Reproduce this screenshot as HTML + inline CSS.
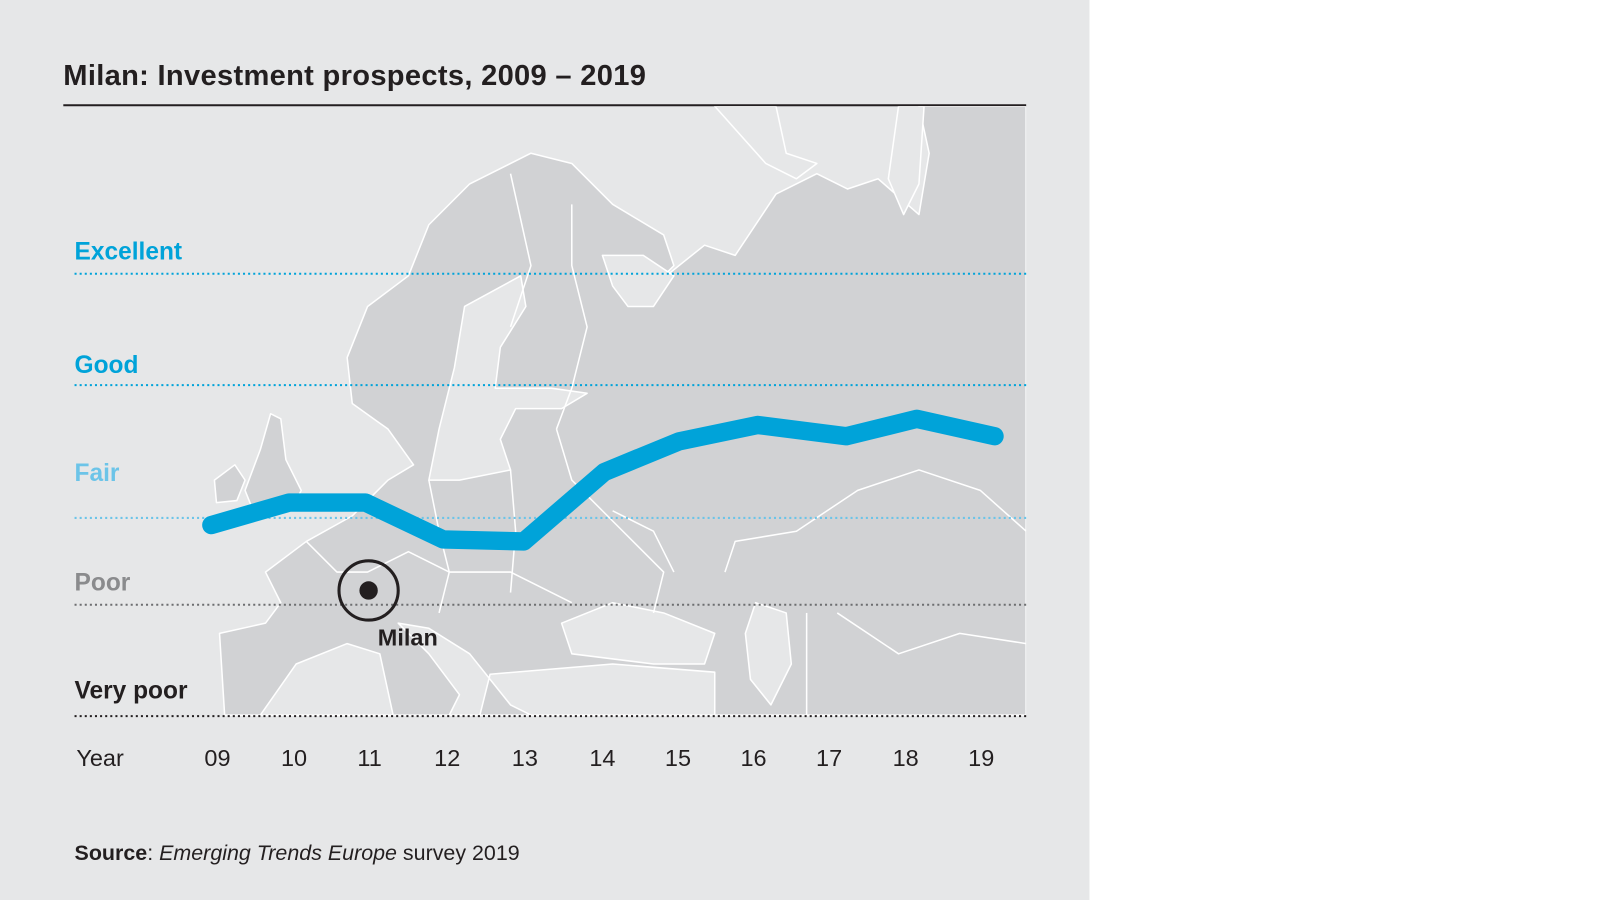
<!DOCTYPE html>
<html><head><meta charset="utf-8"><style>
html,body{margin:0;padding:0;width:1600px;height:900px;background:#fff;overflow:hidden}
svg{display:block}
text{font-family:"Liberation Sans",Arial,sans-serif}
</style></head><body>
<svg width="1600" height="900" viewBox="0 0 1567 881" preserveAspectRatio="none" xmlns="http://www.w3.org/2000/svg">
<rect x="0" y="0" width="1067" height="881" fill="#e6e7e8"/>
<text x="62" y="83" font-size="28.5" font-weight="bold" fill="#231f20" letter-spacing="0.3">Milan: Investment prospects, 2009 – 2019</text>
<line x1="62" y1="103" x2="1005" y2="103" stroke="#231f20" stroke-width="2"/>
<clipPath id="c"><rect x="62" y="104" width="943" height="597"/></clipPath>
<g clip-path="url(#c)" stroke="#fff" stroke-width="1.5" stroke-linejoin="round">
<polygon fill="#d1d2d4" points="340,350 360,300 400,270 420,220 460,180 520,150 560,160 600,200 650,230 660,260 640,280 690,240 720,250 760,190 800,170 830,185 860,175 900,210 910,150 900,104 1005,104 1005,700 220,700 215,620 260,610 275,590 260,560 300,530 345,505 380,470 405,455 380,420 345,395"/>
<polygon fill="#d1d2d4" points="240,480 255,440 265,405 275,410 280,450 295,480 285,500 250,505"/>
<polygon fill="#d1d2d4" points="210,470 230,455 240,470 232,490 212,492"/>
<polygon fill="#e6e7e8" points="455,300 510,270 515,300 490,340 485,380 540,380 575,385 550,400 505,400 490,430 500,460 450,470 420,470 430,420 445,360"/>
<polygon fill="#e6e7e8" points="590,250 630,250 660,270 640,300 615,300 600,280"/>
<polygon fill="#e6e7e8" points="550,610 600,590 650,600 700,620 690,650 640,650 560,640"/>
<polygon fill="#e6e7e8" points="740,590 770,600 775,650 755,690 735,665 730,620"/>
<polygon fill="#e6e7e8" points="255,700 290,650 340,630 372,640 385,700"/>
<polygon fill="#e6e7e8" points="390,610 420,640 450,680 440,700 470,700 480,660 540,655 600,650 700,658 700,700 520,700 500,690 460,640 420,615"/>
<polygon fill="#e6e7e8" points="700,104 760,104 770,150 800,160 780,175 750,160"/>
<polygon fill="#e6e7e8" points="880,104 905,104 900,180 885,210 870,175"/>
<polyline fill="none" points="420,470 430,520 440,560 430,600"/>
<polyline fill="none" points="500,460 505,520 500,580"/>
<polyline fill="none" points="545,420 560,470 600,510 650,560 640,600"/>
<polyline fill="none" points="600,500 640,520 660,560"/>
<polyline fill="none" points="300,530 330,560 360,560 400,540 440,560 500,560 560,590"/>
<polyline fill="none" points="710,560 720,530 780,520 840,480 900,460 960,480 1005,520"/>
<polyline fill="none" points="790,600 790,700"/>
<polyline fill="none" points="820,600 880,640 940,620 1005,630"/>
<polyline fill="none" points="545,420 560,380 575,320 560,260 560,200"/>
<polyline fill="none" points="500,170 520,260 500,320"/>
</g>
<g fill="none" stroke-width="2" stroke-dasharray="2 3">
<line x1="73" y1="268" x2="1005" y2="268" stroke="#00a3d9"/>
<line x1="73" y1="377" x2="1005" y2="377" stroke="#00a3d9"/>
<line x1="73" y1="507" x2="1005" y2="507" stroke="#6cc4e8"/>
<line x1="73" y1="592" x2="1005" y2="592" stroke="#6d6e70"/>
<line x1="73" y1="701" x2="1005" y2="701" stroke="#231f20"/>
</g>
<polyline fill="none" stroke="#00a3d9" stroke-width="18" stroke-linecap="round" stroke-linejoin="round" points="207,514 283,492 358,492 434,528 513,530 592,462 665,432 742,416 829,427 898,410 974,427"/>
<circle cx="361" cy="578" r="29" fill="none" stroke="#231f20" stroke-width="3"/>
<circle cx="361" cy="578" r="9" fill="#231f20"/>
<text x="370" y="632" font-size="23" font-weight="bold" fill="#231f20">Milan</text>
<g font-size="24" font-weight="bold">
<text x="73" y="254" fill="#00a3d9">Excellent</text>
<text x="73" y="365" fill="#00a3d9">Good</text>
<text x="73" y="471" fill="#6cc4e8">Fair</text>
<text x="73" y="578" fill="#8a8b8d">Poor</text>
<text x="73" y="684" fill="#231f20">Very poor</text>
</g>
<g font-size="23" fill="#231f20" text-anchor="middle">
<text x="98" y="750">Year</text>
<text x="213" y="750">09</text><text x="288" y="750">10</text><text x="362" y="750">11</text>
<text x="438" y="750">12</text><text x="514" y="750">13</text><text x="590" y="750">14</text>
<text x="664" y="750">15</text><text x="738" y="750">16</text><text x="812" y="750">17</text>
<text x="887" y="750">18</text><text x="961" y="750">19</text>
</g>
<text x="73" y="842" font-size="21" fill="#231f20"><tspan font-weight="bold">Source</tspan>: <tspan font-style="italic">Emerging Trends Europe</tspan> survey 2019</text>
</svg>
</body></html>
